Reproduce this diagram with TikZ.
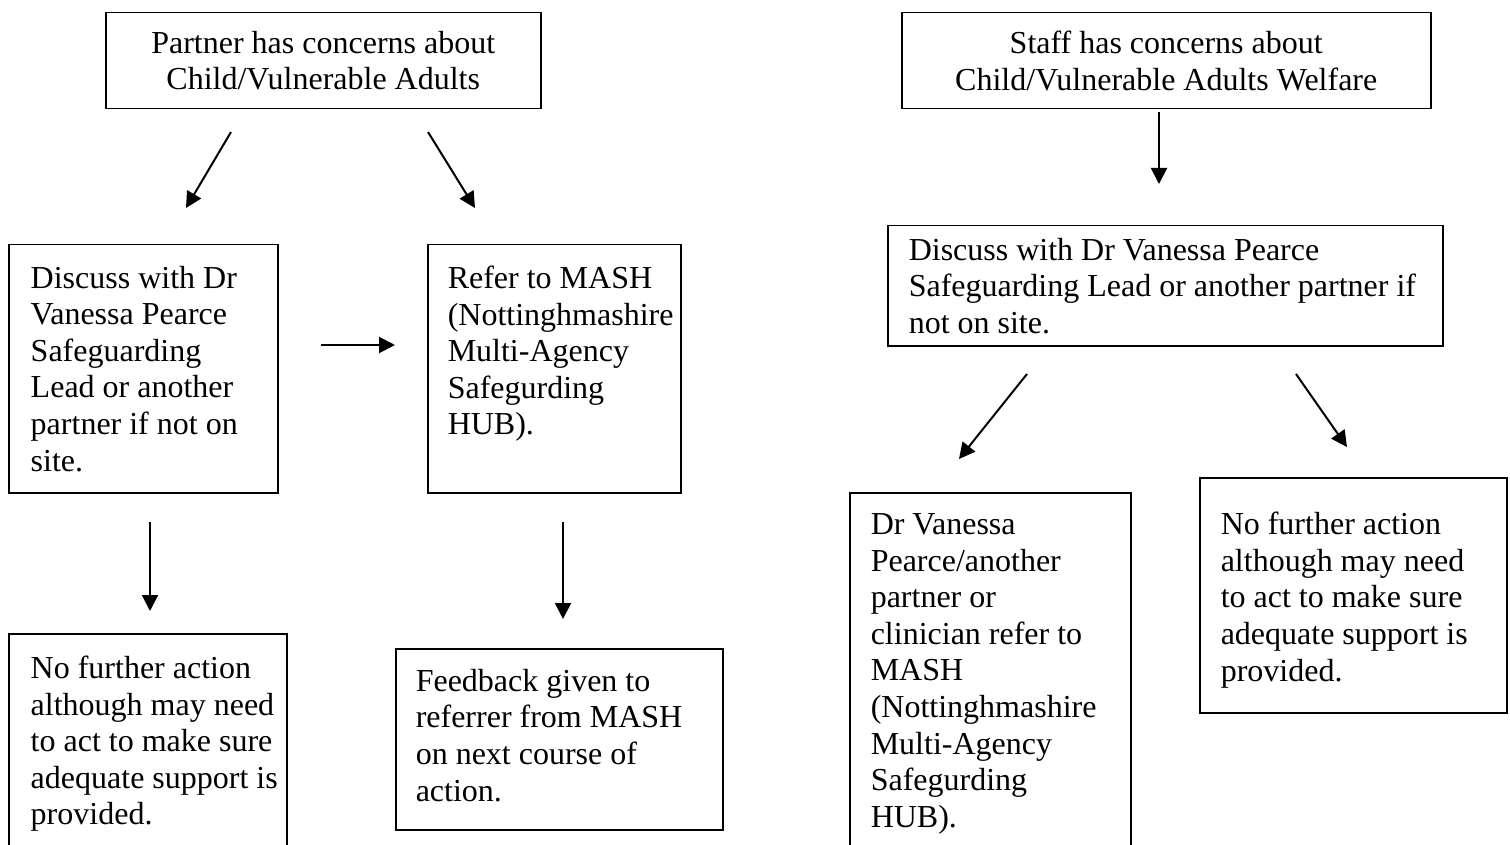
\documentclass[tikz,border=0pt]{standalone}
\usepackage{fontspec}
\setmainfont{Liberation Serif}
\usetikzlibrary{arrows.meta}

\begin{document}
\begin{tikzpicture}[x=1pt, y=-1pt,
  every node/.style={font=\fontsize{32}{36.6}\selectfont},
  box/.style={draw, line width=1.5pt, anchor=north west, inner sep=0pt, align=flush left},
  pad/.style={execute at begin node={\leftskip=#1\relax}},
  arr/.style={line width=2pt, -{Triangle[length=16pt,width=16pt]}}]
\useasboundingbox (0,0) rectangle (1510,845);
\clip (0,0) rectangle (1510,845);
\node[box, align=flush center, text width=435, minimum height=96] (partner) at (105,12)
  {Partner has concerns about\\Child/Vulnerable Adults};
\node[box, align=flush center, text width=529, minimum height=96] (staff) at (901,12)
  {Staff has concerns about\\Child/Vulnerable Adults Welfare};
\node[box, pad=22pt, text width=269, minimum height=248] (discuss) at (8,244)
  {Discuss with Dr\\Vanessa Pearce\\Safeguarding\\Lead or another\\partner if not on\\site.};
\node[box, pad=20pt, text width=253, minimum height=248, text depth=183pt] (refer) at (427,244)
  {Refer to MASH\\(Nottinghmashire\\Multi-Agency\\Safegurding\\HUB).};
\node[box, pad=21pt, text width=555, minimum height=120] (staffdiscuss) at (887,225)
  {Discuss with Dr Vanessa Pearce\\Safeguarding Lead or another partner if\\not on site.};
\node[box, pad=22pt, text width=278, minimum height=220] (nfa) at (8,633)
  {No further action\\although may need\\to act to make sure\\adequate support is\\provided.};
\node[box, pad=20pt, text width=327, minimum height=181, text depth=118pt] (feedback) at (395,648)
  {Feedback given to\\referrer from MASH\\on next course of\\action.};
\node[box, pad=21pt, text width=281, minimum height=362] (staffrefer) at (849,492)
  {Dr Vanessa\\Pearce/another\\partner or\\clinician refer to\\MASH\\(Nottinghmashire\\Multi-Agency\\Safegurding\\HUB).};
\node[box, pad=21pt, text width=307, minimum height=235, text height=32pt] (staffnfa) at (1199,477)
  {No further action\\although may need\\to act to make sure\\adequate support is\\provided.};

\coordinate (p1) at (231,132); \coordinate (p1e) at (186,208);
\coordinate (p2) at (428,132); \coordinate (p2e) at (475,208);
\coordinate (s1) at (1159,112); \coordinate (s1e) at (1159,184);
\coordinate (d1) at (321,345); \coordinate (d1e) at (395,345);
\coordinate (d2) at (150,522); \coordinate (d2e) at (150,611);
\coordinate (r1) at (563,522); \coordinate (r1e) at (563,619);
\coordinate (s2) at (1027,374); \coordinate (s2e) at (959,459);
\coordinate (s3) at (1296,374); \coordinate (s3e) at (1347,447);
\foreach \a/\b in {p1/p1e, p2/p2e, s1/s1e, d1/d1e, d2/d2e, r1/r1e, s2/s2e, s3/s3e}
  \draw[arr] (\a) -- (\b);
\end{tikzpicture}
\end{document}
